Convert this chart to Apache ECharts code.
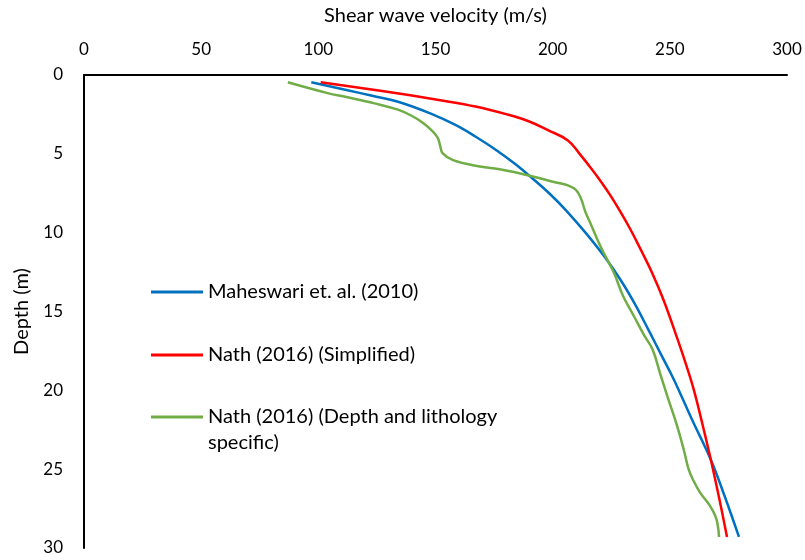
<!DOCTYPE html>
<html>
<head>
<meta charset="utf-8">
<script src="https://cdn.jsdelivr.net/npm/echarts@6/dist/echarts.min.js"></script>
<style>
  html, body { margin: 0; padding: 0; background: #fff; }
  #chart { width: 805px; height: 560px; }
</style>
</head>
<body>
<div id="chart"></div>
<script>
// velocity (m/s), depth (m) pairs
var maheswari = [
  [97, 0.46], [112, 0.95], [123, 1.32], [134, 1.7], [148, 2.45], [158.5, 3.17],
  [167, 3.9], [176.3, 4.8], [184.3, 5.68], [191.3, 6.55], [198.5, 7.5], [205.5, 8.55],
  [214, 10], [222, 11.5], [229, 13], [235, 14.5], [241, 16.2], [246.5, 17.8],
  [251.8, 19.34], [259.6, 21.9], [267.5, 24.4], [273.6, 26.8], [279.5, 29.3]
];
var nathSimplified = [
  [101, 0.46], [126.5, 1.0], [152, 1.6], [167, 2.0], [180.5, 2.5], [190, 2.95],
  [198, 3.5], [206.5, 4.15], [211.5, 5.0], [216.3, 5.9], [220.8, 6.8], [224.9, 7.7],
  [229, 8.7], [233.2, 9.8], [237, 10.9], [242.6, 12.6], [247.4, 14.3], [253.4, 16.8],
  [257, 18.4], [260.3, 20], [264, 22.2], [267.5, 24.4], [271, 26.8], [274.4, 29.3]
];
var nathSpecific = [
  [87, 0.46], [104, 1.15], [112, 1.4], [124, 1.8], [134, 2.2], [140, 2.6],
  [145, 3.07], [149, 3.6], [151, 4.0], [152, 4.5], [153, 4.95], [157.5, 5.4],
  [169, 5.8], [178, 6.0], [191, 6.42], [201, 6.8], [206.5, 7.0], [210, 7.3],
  [212, 7.8], [214, 8.7], [215.5, 9.2], [220.5, 10.9], [226, 12.5], [230, 14],
  [234.7, 15.3], [239, 16.5], [242.6, 17.4], [246, 19], [249, 20.4], [253, 22.2],
  [256, 23.8], [258, 25], [260, 25.7], [263, 26.5], [267, 27.3], [269.5, 28.0],
  [270.5, 28.6], [271, 29.3]
];
var seriesNames = ['Maheswari et. al. (2010)', 'Nath (2016) (Simplified)', 'Nath (2016) (Depth and lithology specific)'];
var colors = ['#0070C0', '#FF0000', '#70AD47'];

var FONT = 'Lato';
var chart = echarts.init(document.getElementById('chart'));

function legendAt(name, top, lineHeight) {
  return {
    orient: 'vertical', left: 151, top: top, padding: 0,
    itemWidth: 52, itemHeight: 3, icon: 'rect',
    data: [name], selectedMode: false,
    textStyle: { color: '#000', fontFamily: FONT, fontSize: 20, lineHeight: lineHeight }
  };
}

var greenLegend = legendAt(seriesNames[2], 378, 26);
// blank first line so the first text line sits level with the line icon
greenLegend.formatter = function () { return ' \nNath (2016) (Depth and lithology\nspecific)'; };

var option = {
  animation: false,
  backgroundColor: '#fff',
  grid: { left: 84, right: 18, top: 75, bottom: 12, containLabel: false, outerBoundsMode: 'none' },
  legend: [
    legendAt(seriesNames[0], 280, 24),
    legendAt(seriesNames[1], 343, 24),
    greenLegend
  ],
  xAxis: {
    type: 'value', position: 'top', min: 0, max: 300, interval: 50,
    name: 'Shear wave velocity (m/s)', nameLocation: 'middle', nameGap: 49,
    nameTextStyle: { color: '#000', fontFamily: FONT, fontSize: 20 },
    axisLine: { show: true, lineStyle: { color: '#000', width: 2 } },
    axisTick: { show: false },
    splitLine: { show: false },
    axisLabel: { color: '#000', fontFamily: FONT, fontSize: 17, margin: 17 }
  },
  yAxis: {
    type: 'value', inverse: true, min: 0, max: 30, interval: 5,
    name: 'Depth (m)', nameLocation: 'middle', nameGap: 52,
    nameTextStyle: { color: '#000', fontFamily: FONT, fontSize: 20 },
    axisLine: { show: true, lineStyle: { color: '#000', width: 2 } },
    axisTick: { show: false },
    splitLine: { show: false },
    axisLabel: { color: '#000', fontFamily: FONT, fontSize: 17, margin: 21 }
  },
  series: [maheswari, nathSimplified, nathSpecific].map(function (d, i) {
    return {
      name: seriesNames[i], type: 'line', data: d,
      symbol: 'none', smooth: 0.4,
      itemStyle: { color: colors[i] },
      lineStyle: { color: colors[i], width: 2.5 }
    };
  })
};
chart.setOption(option);
</script>
</body>
</html>
